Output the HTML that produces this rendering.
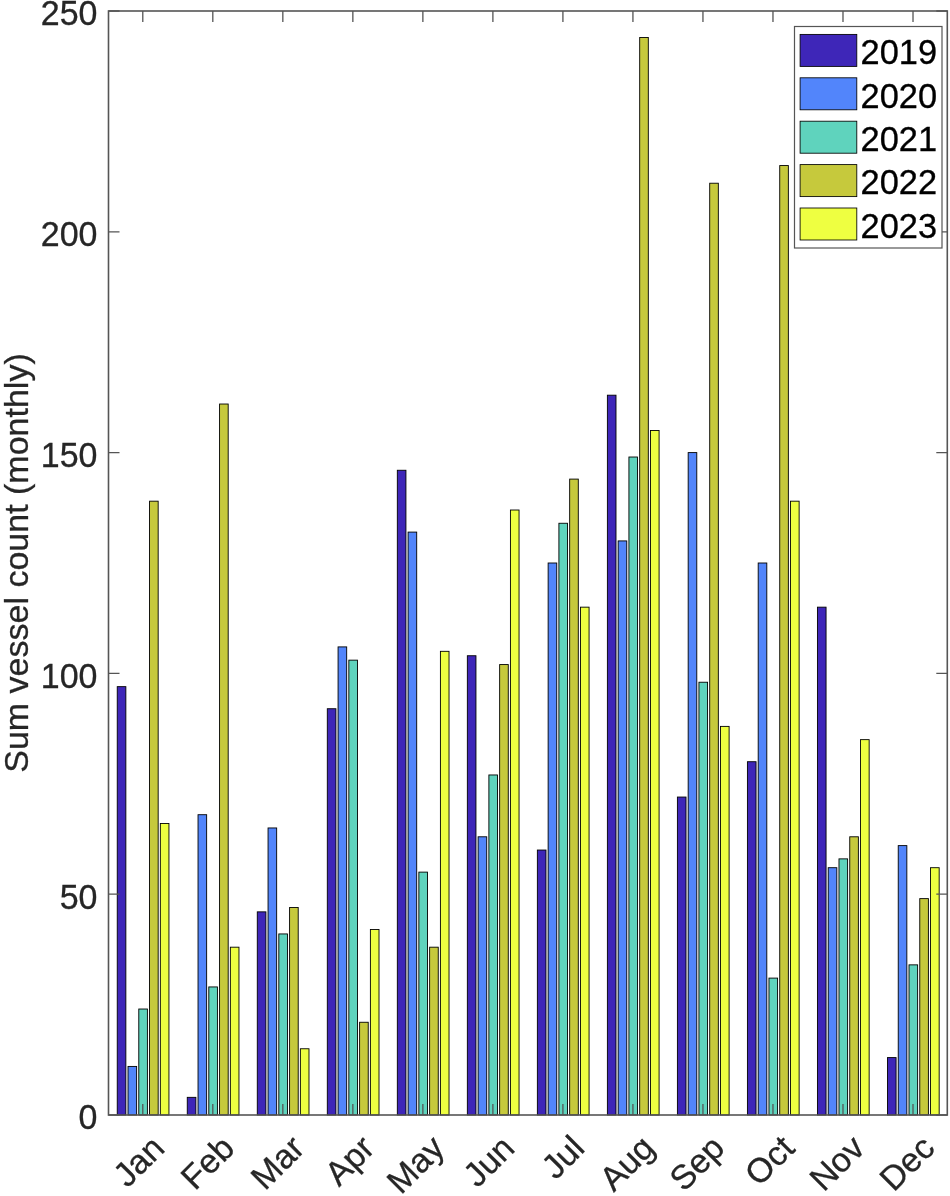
<!DOCTYPE html>
<html><head><meta charset="utf-8"><title>Sum vessel count (monthly)</title>
<style>html,body{margin:0;padding:0;background:#fff}svg{display:block}text{font-family:"Liberation Sans",Arial,Helvetica,sans-serif;font-size:34px;fill:#262626;stroke:#262626;stroke-width:0.3px}</style></head><body>
<svg width="950" height="1196" viewBox="0 0 950 1196">
<rect width="950" height="1196" fill="#fff"/>
<g stroke="#000" stroke-width="0.9">
<rect x="117.24" y="686.65" width="8.62" height="428.35" fill="#3e26b8"/>
<rect x="128.01" y="1066.42" width="8.62" height="48.58" fill="#5285fb"/>
<rect x="138.78" y="1009.02" width="8.62" height="105.98" fill="#5fd3bd"/>
<rect x="149.55" y="501.18" width="8.62" height="613.82" fill="#c6c93c"/>
<rect x="160.33" y="823.54" width="8.62" height="291.46" fill="#eeff41"/>
<rect x="187.26" y="1097.34" width="8.62" height="17.66" fill="#3e26b8"/>
<rect x="198.03" y="814.71" width="8.62" height="300.29" fill="#5285fb"/>
<rect x="208.80" y="986.94" width="8.62" height="128.06" fill="#5fd3bd"/>
<rect x="219.57" y="404.02" width="8.62" height="710.98" fill="#c6c93c"/>
<rect x="230.35" y="947.19" width="8.62" height="167.81" fill="#eeff41"/>
<rect x="257.28" y="911.86" width="8.62" height="203.14" fill="#3e26b8"/>
<rect x="268.05" y="827.96" width="8.62" height="287.04" fill="#5285fb"/>
<rect x="278.82" y="933.94" width="8.62" height="181.06" fill="#5fd3bd"/>
<rect x="289.59" y="907.45" width="8.62" height="207.55" fill="#c6c93c"/>
<rect x="300.37" y="1048.76" width="8.62" height="66.24" fill="#eeff41"/>
<rect x="327.30" y="708.73" width="8.62" height="406.27" fill="#3e26b8"/>
<rect x="338.07" y="646.90" width="8.62" height="468.10" fill="#5285fb"/>
<rect x="348.84" y="660.15" width="8.62" height="454.85" fill="#5fd3bd"/>
<rect x="359.61" y="1022.26" width="8.62" height="92.74" fill="#c6c93c"/>
<rect x="370.39" y="929.53" width="8.62" height="185.47" fill="#eeff41"/>
<rect x="397.32" y="470.26" width="8.62" height="644.74" fill="#3e26b8"/>
<rect x="408.09" y="532.09" width="8.62" height="582.91" fill="#5285fb"/>
<rect x="418.86" y="872.12" width="8.62" height="242.88" fill="#5fd3bd"/>
<rect x="429.63" y="947.19" width="8.62" height="167.81" fill="#c6c93c"/>
<rect x="440.41" y="651.32" width="8.62" height="463.68" fill="#eeff41"/>
<rect x="467.34" y="655.74" width="8.62" height="459.26" fill="#3e26b8"/>
<rect x="478.11" y="836.79" width="8.62" height="278.21" fill="#5285fb"/>
<rect x="488.88" y="774.97" width="8.62" height="340.03" fill="#5fd3bd"/>
<rect x="499.65" y="664.57" width="8.62" height="450.43" fill="#c6c93c"/>
<rect x="510.43" y="510.01" width="8.62" height="604.99" fill="#eeff41"/>
<rect x="537.36" y="850.04" width="8.62" height="264.96" fill="#3e26b8"/>
<rect x="548.13" y="563.00" width="8.62" height="552.00" fill="#5285fb"/>
<rect x="558.90" y="523.26" width="8.62" height="591.74" fill="#5fd3bd"/>
<rect x="569.67" y="479.10" width="8.62" height="635.90" fill="#c6c93c"/>
<rect x="580.45" y="607.16" width="8.62" height="507.84" fill="#eeff41"/>
<rect x="607.38" y="395.19" width="8.62" height="719.81" fill="#3e26b8"/>
<rect x="618.15" y="540.92" width="8.62" height="574.08" fill="#5285fb"/>
<rect x="628.92" y="457.02" width="8.62" height="657.98" fill="#5fd3bd"/>
<rect x="639.69" y="37.50" width="8.62" height="1077.50" fill="#c6c93c"/>
<rect x="650.47" y="430.52" width="8.62" height="684.48" fill="#eeff41"/>
<rect x="677.40" y="797.05" width="8.62" height="317.95" fill="#3e26b8"/>
<rect x="688.17" y="452.60" width="8.62" height="662.40" fill="#5285fb"/>
<rect x="698.94" y="682.23" width="8.62" height="432.77" fill="#5fd3bd"/>
<rect x="709.71" y="183.22" width="8.62" height="931.78" fill="#c6c93c"/>
<rect x="720.49" y="726.39" width="8.62" height="388.61" fill="#eeff41"/>
<rect x="747.42" y="761.72" width="8.62" height="353.28" fill="#3e26b8"/>
<rect x="758.19" y="563.00" width="8.62" height="552.00" fill="#5285fb"/>
<rect x="768.96" y="978.10" width="8.62" height="136.90" fill="#5fd3bd"/>
<rect x="779.73" y="165.56" width="8.62" height="949.44" fill="#c6c93c"/>
<rect x="790.51" y="501.18" width="8.62" height="613.82" fill="#eeff41"/>
<rect x="817.44" y="607.16" width="8.62" height="507.84" fill="#3e26b8"/>
<rect x="828.21" y="867.70" width="8.62" height="247.30" fill="#5285fb"/>
<rect x="838.98" y="858.87" width="8.62" height="256.13" fill="#5fd3bd"/>
<rect x="849.75" y="836.79" width="8.62" height="278.21" fill="#c6c93c"/>
<rect x="860.53" y="739.64" width="8.62" height="375.36" fill="#eeff41"/>
<rect x="887.46" y="1057.59" width="8.62" height="57.41" fill="#3e26b8"/>
<rect x="898.23" y="845.62" width="8.62" height="269.38" fill="#5285fb"/>
<rect x="909.00" y="964.86" width="8.62" height="150.14" fill="#5fd3bd"/>
<rect x="919.77" y="898.62" width="8.62" height="216.38" fill="#c6c93c"/>
<rect x="930.55" y="867.70" width="8.62" height="247.30" fill="#eeff41"/>
</g>
<g stroke="#555555" stroke-width="1.6" fill="none">
<rect x="108.50" y="11.00" width="838.80" height="1104.00"/>
</g><g stroke="#555555" stroke-width="1.3" fill="none">
<path d="M142.79 1115.00v-11 M142.79 11.00v11"/>
<path d="M212.81 1115.00v-11 M212.81 11.00v11"/>
<path d="M282.83 1115.00v-11 M282.83 11.00v11"/>
<path d="M352.85 1115.00v-11 M352.85 11.00v11"/>
<path d="M422.87 1115.00v-11 M422.87 11.00v11"/>
<path d="M492.89 1115.00v-11 M492.89 11.00v11"/>
<path d="M562.91 1115.00v-11 M562.91 11.00v11"/>
<path d="M632.93 1115.00v-11 M632.93 11.00v11"/>
<path d="M702.95 1115.00v-11 M702.95 11.00v11"/>
<path d="M772.97 1115.00v-11 M772.97 11.00v11"/>
<path d="M842.99 1115.00v-11 M842.99 11.00v11"/>
<path d="M913.01 1115.00v-11 M913.01 11.00v11"/>
<path d="M108.50 1115.00h11 M947.30 1115.00h-11"/>
<path d="M108.50 894.20h11 M947.30 894.20h-11"/>
<path d="M108.50 673.40h11 M947.30 673.40h-11"/>
<path d="M108.50 452.60h11 M947.30 452.60h-11"/>
<path d="M108.50 231.80h11 M947.30 231.80h-11"/>
<path d="M108.50 11.00h11 M947.30 11.00h-11"/>
</g>
<text transform="translate(97.5,1129.30) scale(1,1.045)" text-anchor="end">0</text>
<text transform="translate(97.5,908.50) scale(1,1.045)" text-anchor="end">50</text>
<text transform="translate(97.5,687.70) scale(1,1.045)" text-anchor="end">100</text>
<text transform="translate(97.5,466.90) scale(1,1.045)" text-anchor="end">150</text>
<text transform="translate(97.5,246.10) scale(1,1.045)" text-anchor="end">200</text>
<text transform="translate(97.5,25.30) scale(1,1.045)" text-anchor="end">250</text>
<text transform="translate(166.29,1150.00) rotate(-45)" text-anchor="end">Jan</text>
<text transform="translate(236.31,1150.00) rotate(-45)" text-anchor="end">Feb</text>
<text transform="translate(306.33,1150.00) rotate(-45)" text-anchor="end">Mar</text>
<text transform="translate(376.35,1150.00) rotate(-45)" text-anchor="end">Apr</text>
<text transform="translate(446.37,1150.00) rotate(-45)" text-anchor="end">May</text>
<text transform="translate(516.39,1150.00) rotate(-45)" text-anchor="end">Jun</text>
<text transform="translate(586.41,1150.00) rotate(-45)" text-anchor="end">Jul</text>
<text transform="translate(656.43,1150.00) rotate(-45)" text-anchor="end">Aug</text>
<text transform="translate(726.45,1150.00) rotate(-45)" text-anchor="end">Sep</text>
<text transform="translate(796.47,1150.00) rotate(-45)" text-anchor="end">Oct</text>
<text transform="translate(866.49,1150.00) rotate(-45)" text-anchor="end">Nov</text>
<text transform="translate(936.51,1150.00) rotate(-45)" text-anchor="end">Dec</text>
<text transform="translate(27.8,563) rotate(-90)" text-anchor="middle">Sum vessel count (monthly)</text>
<rect x="794.5" y="26.5" width="147.5" height="221.5" fill="#fff" stroke="#555555" stroke-width="1.2"/>
<rect x="800.1" y="34.40" width="56.7" height="32" fill="#3e26b8" stroke="#000" stroke-width="0.85"/>
<text transform="translate(860.6,64.10) scale(1.012,1.05)" style="fill:#000;stroke:#000">2019</text>
<rect x="800.1" y="77.80" width="56.7" height="32" fill="#5285fb" stroke="#000" stroke-width="0.85"/>
<text transform="translate(860.6,107.50) scale(1.012,1.05)" style="fill:#000;stroke:#000">2020</text>
<rect x="800.1" y="121.20" width="56.7" height="32" fill="#5fd3bd" stroke="#000" stroke-width="0.85"/>
<text transform="translate(860.6,150.90) scale(1.012,1.05)" style="fill:#000;stroke:#000">2021</text>
<rect x="800.1" y="164.60" width="56.7" height="32" fill="#c6c93c" stroke="#000" stroke-width="0.85"/>
<text transform="translate(860.6,194.30) scale(1.012,1.05)" style="fill:#000;stroke:#000">2022</text>
<rect x="800.1" y="208.00" width="56.7" height="32" fill="#eeff41" stroke="#000" stroke-width="0.85"/>
<text transform="translate(860.6,237.70) scale(1.012,1.05)" style="fill:#000;stroke:#000">2023</text>
</svg></body></html>
